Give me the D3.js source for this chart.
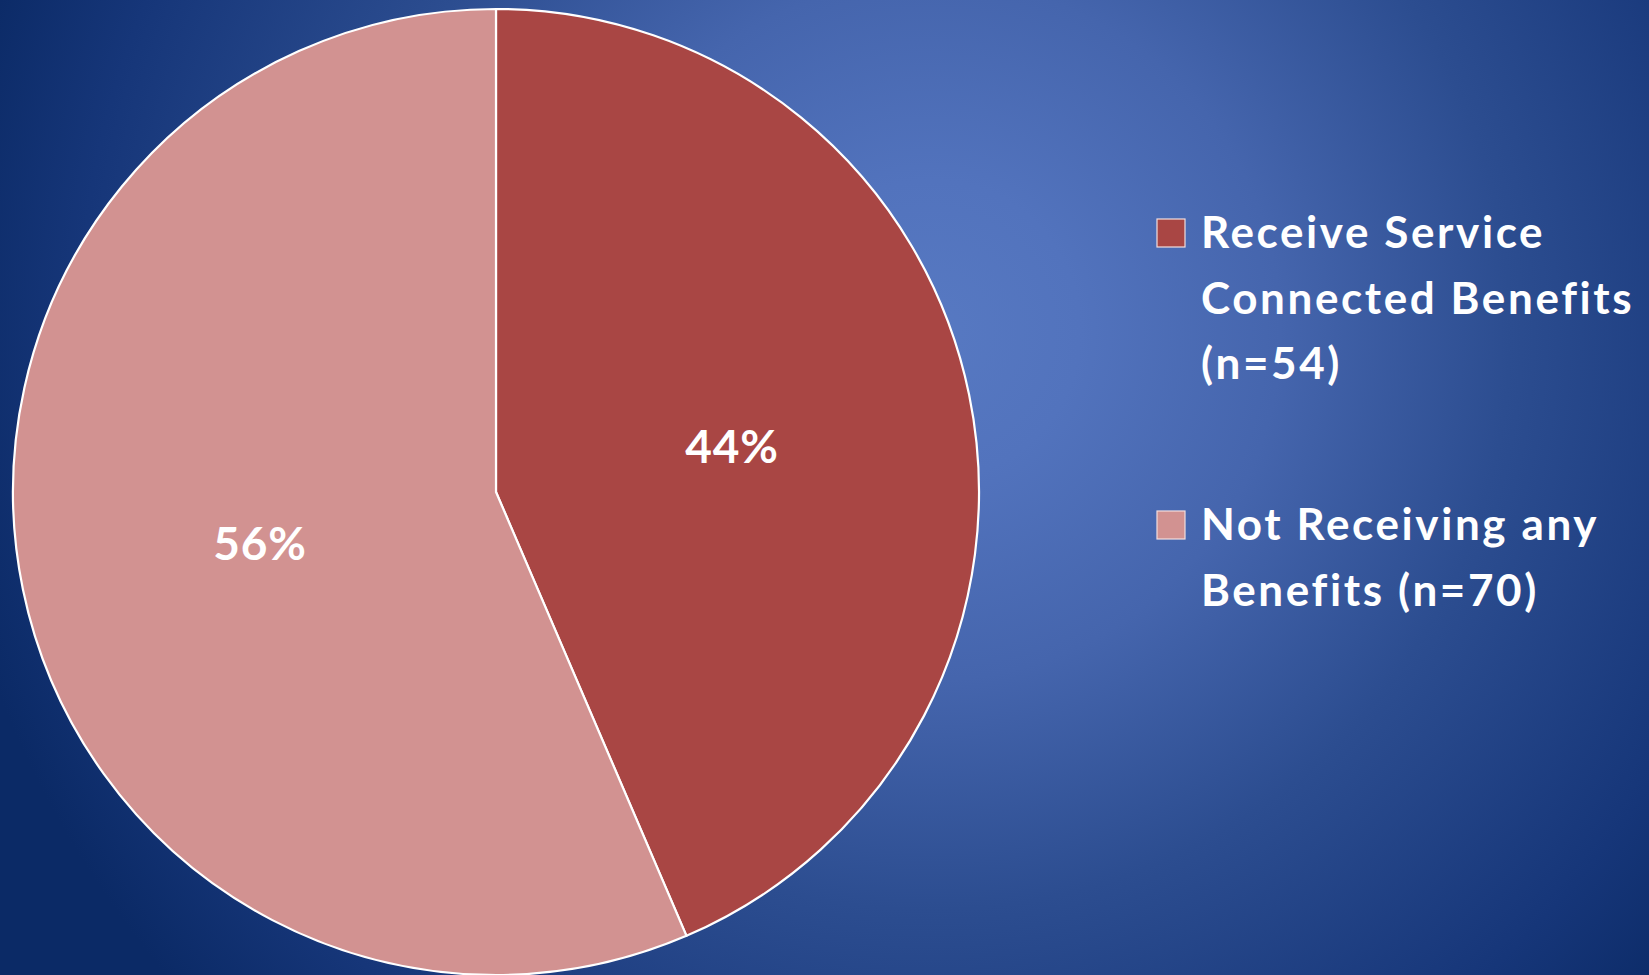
<!DOCTYPE html>
<html><head><meta charset="utf-8">
<script src="https://cdn.jsdelivr.net/npm/d3@7"></script>
<style>html,body{margin:0;padding:0;overflow:hidden;background:#0b2a66}</style>
</head><body>
<script>
const categories = ["Receive Service Connected Benefits (n=54)", "Not Receiving any Benefits (n=70)"];
const legendLines = [["Receive Service", "Connected Benefits", "(n=54)"], ["Not Receiving any", "Benefits (n=70)"]];
const values = [54, 70];
const colors = ["#a94644", "#d29291"];

const W = 1649, H = 975;
const svg = d3.select("body").append("svg").attr("width", W).attr("height", H);
const defs = svg.append("defs");
const grad = defs.append("radialGradient").attr("id", "bg")
  .attr("gradientUnits", "userSpaceOnUse").attr("cx", 930).attr("cy", 330).attr("r", 1000);
[[0, "#5779c2"], [0.15, "#5273bd"], [0.35, "#4565ad"], [0.58, "#2c4d90"], [0.85, "#163679"], [1, "#0b2a66"]]
  .forEach(([o, c]) => grad.append("stop").attr("offset", o).attr("stop-color", c));
svg.append("rect").attr("width", W).attr("height", H).attr("fill", "url(#bg)");

const cx = 496, cy = 492, R = 483;
const total = d3.sum(values);
const pie = d3.pie().sort(null).value(d => d)(values);
const arc = d3.arc().innerRadius(0).outerRadius(R);
const labelArc = d3.arc().innerRadius(241).outerRadius(241);
const g = svg.append("g").attr("transform", `translate(${cx},${cy})`);
g.selectAll("path").data(pie).join("path")
  .attr("d", arc).attr("fill", (d, i) => colors[i])
  .attr("stroke", "#fff").attr("stroke-width", 2.2).attr("stroke-linejoin", "round");
g.selectAll("text").data(pie).join("text")
  .attr("transform", d => `translate(${labelArc.centroid(d)})`)
  .attr("text-anchor", "middle").attr("dy", "0.42em")
  .attr("fill", "#fff").attr("font-family", "Lato, 'Open Sans', sans-serif")
  .attr("font-weight", 700).attr("font-size", 46).attr("letter-spacing", 0.8)
  .text(d => Math.round(d.value / total * 100) + "%");

const lg = svg.append("g");
const tops = [248, 540];
legendLines.forEach((lines, i) => {
  lg.append("rect").attr("x", 1157).attr("y", tops[i] - 29).attr("width", 28).attr("height", 28)
    .attr("fill", colors[i]).attr("stroke", "#f2dede").attr("stroke-width", 1.2);
  const t = lg.append("text").attr("x", 1201).attr("y", tops[i])
    .attr("fill", "#fff").attr("font-family", "Lato, 'Open Sans', sans-serif")
    .attr("font-weight", 700).attr("font-size", 44).attr("letter-spacing", 2.6);
  lines.forEach((l, j) => t.append("tspan").attr("x", 1201).attr("y", tops[i] + j * 65.5).text(l));
});
</script>
</body></html>
